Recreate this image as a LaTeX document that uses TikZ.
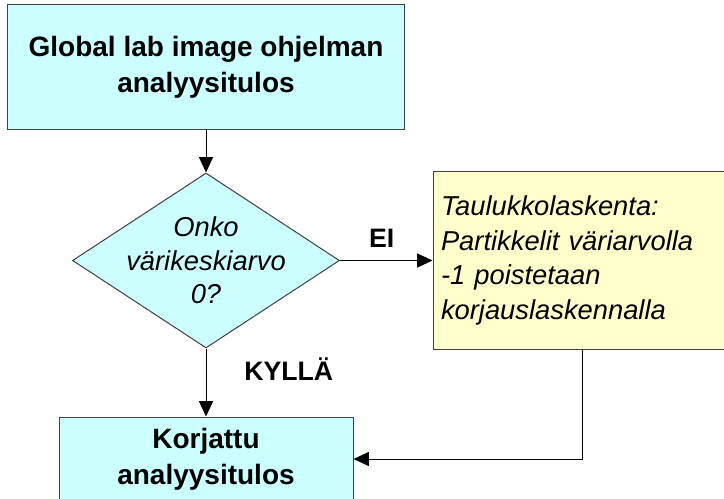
\documentclass[tikz,border=0pt]{standalone}
\usepackage{fontspec}
\setmainfont{Liberation Sans}
\usetikzlibrary{positioning,shapes.geometric,arrows.meta}
\definecolor{boxcyan}{HTML}{CCFFFF}
\definecolor{boxyellow}{HTML}{FFFFCC}
\definecolor{edgegray}{HTML}{404040}

\begin{document}
\begin{tikzpicture}[x=0.75pt, y=-0.75pt,
    stepbox/.style={draw=edgegray, line width=0.75pt, fill=boxcyan, inner sep=0pt,
        align=center, font=\fontsize{21}{27}\selectfont\bfseries},
    decision/.style={diamond, draw=edgegray, line width=0.75pt, fill=boxcyan, inner sep=0pt,
        minimum width=200.25pt, minimum height=131.25pt},
    question/.style={align=center, inner sep=0pt, font=\fontsize{20.5}{25}\selectfont\itshape},
    notebox/.style={draw=edgegray, line width=0.75pt, fill=boxyellow, inner xsep=6pt, inner ysep=0pt,
        align=left, text width=211.5pt, minimum height=132.75pt, font=\fontsize{20.5}{26}\selectfont\itshape},
    answer/.style={font=\fontsize{20}{24}\selectfont\bfseries},
    flow/.style={line width=0.75pt, -{Triangle[length=11.5pt, width=10.5pt]}}]

    % Frame of the picture
    \useasboundingbox (0,0) rectangle (724,499);
    \clip (0,0) rectangle (724,499);

    % Boxes and the decision
    \node[stepbox, minimum width=297.75pt, minimum height=93.75pt] (start) at (206,67.5)
        {Global lab image ohjelman\\analyysitulos};
    \node[decision] (check) at (206,260.5) {};
    \node[question] (checktext) at (check) {Onko\\värikeskiarvo\\0?};
    \node[notebox] (fix) at (582,260.5)
        {Taulukkolaskenta:\\Partikkelit väriarvolla\\-1 poistetaan\\korjauslaskennalla};
    \node[stepbox, minimum width=220.5pt, minimum height=63pt] (result) at (206,459)
        {Korjattu\\analyysitulos};

    % Connectors
    \draw[flow] (start) -- (check);
    \draw[flow] (check) -- node[answer, above=6pt, pos=0.45] (no) {EI} (fix);
    \draw[flow] (check) -- node[answer, right=25pt, pos=0.31] (yes) {KYLLÄ} (result);
    \draw[flow] (fix.south) |- (result.east);
\end{tikzpicture}
\end{document}
